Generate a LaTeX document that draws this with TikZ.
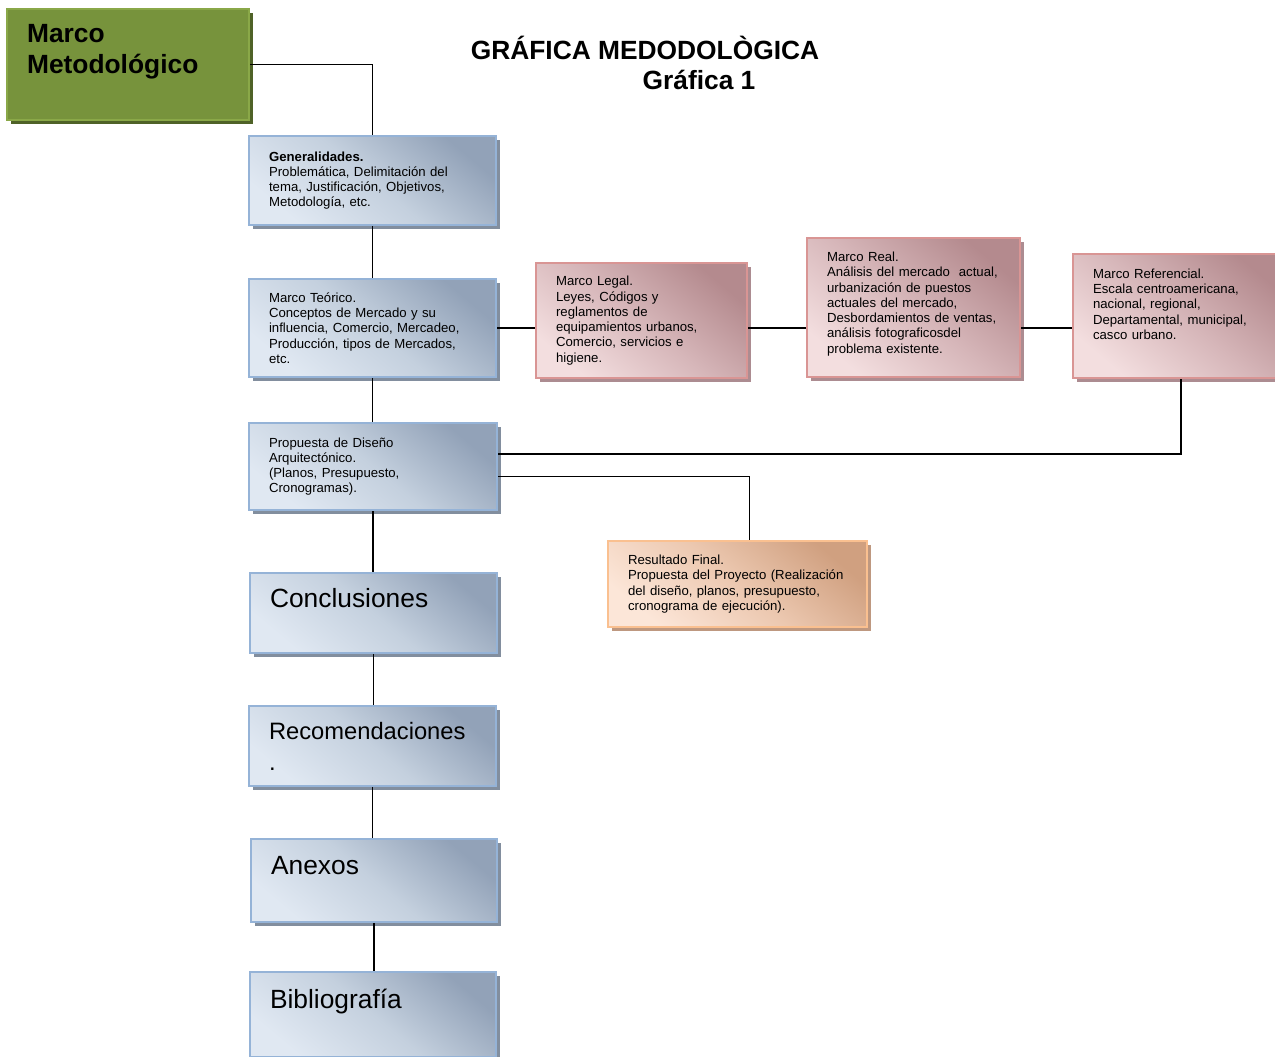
\documentclass[tikz,border=0pt]{standalone}
\usepackage{fontspec}
\setmainfont{Liberation Sans}
\usetikzlibrary{positioning, shadows}

\definecolor{metogreen}{RGB}{119,147,60}
\definecolor{metoline}{RGB}{138,168,72}
\definecolor{metoshadow}{RGB}{79,98,40}
\definecolor{bluedark}{RGB}{146,162,184}
\definecolor{bluemid}{RGB}{196,208,222}
\definecolor{bluelight}{RGB}{224,232,242}
\definecolor{blueline}{RGB}{149,179,215}
\definecolor{blueshadow}{RGB}{130,142,158}
\definecolor{pinkdark}{RGB}{180,138,142}
\definecolor{pinkmid}{RGB}{214,182,185}
\definecolor{pinklight}{RGB}{243,222,223}
\definecolor{pinkline}{RGB}{217,149,148}
\definecolor{pinkshadow}{RGB}{172,140,145}
\definecolor{orangedark}{RGB}{208,160,128}
\definecolor{orangemid}{RGB}{236,200,176}
\definecolor{orangelight}{RGB}{252,230,216}
\definecolor{orangeline}{RGB}{250,192,144}
\definecolor{orangeshadow}{RGB}{190,152,128}

\begin{document}
\begin{tikzpicture}[
    x=0.02cm, y=-0.02cm,
    font=\fontsize{7.5}{8.7}\selectfont,
    box/.style={rectangle, anchor=north west, align=left, inner xsep=0.4cm, inner ysep=0pt, line width=1.2pt},
    metobox/.style={box, draw=metoline, fill=metogreen, font=\fontsize{15}{17.6}\selectfont\bfseries,
        drop shadow={shadow xshift=2.2pt, shadow yshift=-2.2pt, fill=metoshadow, opacity=1}},
    bluebox/.style={box, draw=blueline, top color=bluedark, bottom color=bluelight, middle color=bluemid, shading angle=-40,
        drop shadow={shadow xshift=2.2pt, shadow yshift=-2.2pt, fill=blueshadow, opacity=1}},
    pinkbox/.style={box, draw=pinkline, top color=pinkdark, bottom color=pinklight, middle color=pinkmid, shading angle=-40,
        drop shadow={shadow xshift=2.2pt, shadow yshift=-2.2pt, fill=pinkshadow, opacity=1}},
    orangebox/.style={box, draw=orangeline, top color=orangedark, bottom color=orangelight, middle color=orangemid, shading angle=-40,
        drop shadow={shadow xshift=2.2pt, shadow yshift=-2.2pt, fill=orangeshadow, opacity=1}},
    big/.style={font=\fontsize{15}{17.6}\selectfont},
    titletext/.style={font=\fontsize{15}{18}\selectfont\bfseries},
    link/.style={draw=black, line width=0.9pt}
]
    \useasboundingbox (0,0) rectangle (1275,1056);

    % Title
    \node[titletext] (titulo) at (645,48) {GRÁFICA MEDODOLÒGICA};
    \node[titletext] (grafica) at (699,80) {Gráfica 1};

    % Main column
    \node[metobox, text width=4.04cm, minimum height=2.22cm] (meto) at (6,8) {Marco\\Metodológico\\~};
    \node[bluebox, text width=4.14cm, minimum height=1.78cm] (gen) at (248,135)
        {\textbf{Generalidades.}\\Problemática, Delimitación del\\tema, Justificación, Objetivos,\\Metodología, etc.};
    \node[bluebox, text width=4.14cm, minimum height=1.96cm] (teo) at (248,278)
        {Marco Teórico.\\Conceptos de Mercado y su\\influencia, Comercio, Mercadeo,\\Producción, tipos de Mercados,\\etc.};
    \node[bluebox, text width=4.16cm, minimum height=1.74cm] (prop) at (248,422)
        {Propuesta de Diseño\\Arquitectónico.\\(Planos, Presupuesto,\\Cronogramas).};
    \node[bluebox, big, text width=4.14cm, minimum height=1.60cm] (concl) at (249,572) {Conclusiones\\~};
    \node[bluebox, big, font=\fontsize{13.5}{17.6}\selectfont, text width=4.14cm, minimum height=1.60cm] (recom) at (248,705) {Recomendaciones\\.};
    \node[bluebox, big, text width=4.12cm, minimum height=1.66cm] (anex) at (250,838) {Anexos\\~};
    \node[bluebox, big, text width=4.12cm, minimum height=1.70cm] (biblio) at (249,971) {Bibliografía\\~};

    % Side boxes
    \node[pinkbox, text width=3.42cm, minimum height=2.30cm] (legal) at (535,262)
        {Marco Legal.\\Leyes, Códigos y\\reglamentos de\\equipamientos urbanos,\\Comercio, servicios e\\higiene.};
    \node[pinkbox, text width=3.46cm, minimum height=2.78cm] (real) at (806,237)
        {Marco Real.\\Análisis del mercado\ \ actual,\\urbanización de puestos\\actuales del mercado,\\Desbordamientos de ventas,\\análisis fotograficosdel\\problema existente.\\[-3pt]~};
    \node[pinkbox, text width=3.52cm, minimum height=2.48cm] (refer) at (1072,253)
        {Marco Referencial.\\Escala centroamericana,\\nacional, regional,\\Departamental, municipal,\\casco urbano.\\[5pt]~};
    \node[orangebox, text width=4.38cm, minimum height=1.72cm] (final) at (607,540)
        {Resultado Final.\\Propuesta del Proyecto (Realización\\del diseño, planos, presupuesto,\\cronograma de ejecución).};

    % Connectors
    \draw[link] (meto.east) -| (gen.north);
    \foreach \a/\b in {gen/teo, teo/prop, prop/concl, concl/recom, recom/anex, anex/biblio}
        \draw[link] (\a.south) -- (\a.south |- \b.north);
    \draw[link] (teo.east) -- (teo.east -| legal.west);
    \draw[link] (legal.east |- teo.east) -- (real.west |- teo.east);
    \draw[link] (real.east |- teo.east) -- (refer.west |- teo.east);
    \draw[link] (refer.south) |- ([yshift=0.25cm]prop.east);
    \draw[link] ([yshift=-0.2cm]prop.east) -| ([xshift=0.24cm]final.north);
\end{tikzpicture}
\end{document}
